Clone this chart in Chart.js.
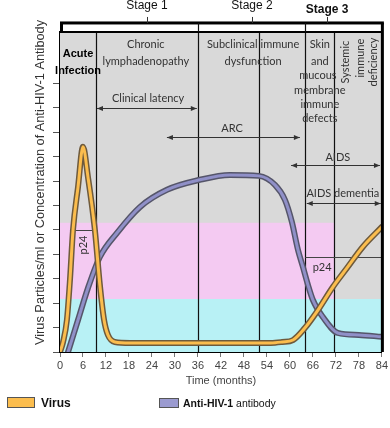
<!DOCTYPE html>
<html>
<head>
<meta charset="utf-8">
<script src="https://cdn.jsdelivr.net/npm/chart.js@4/dist/chart.umd.min.js"></script>
<style>
  html, body { margin: 0; padding: 0; background: #fff; }
  #wrap { position: relative; width: 390px; height: 428px; }
  #legend { position: absolute; left: 0; top: 0; width: 390px; height: 428px; pointer-events: none;
            font-family: "Liberation Sans", Arial, sans-serif; font-size: 11px; color: #111; }
  .sw { position: absolute; box-sizing: border-box; border: 1px solid #555; }
  .lt { position: absolute; line-height: 12px; }
</style>
</head>
<body>
<div id="wrap">
  <canvas id="chart" width="390" height="428"></canvas>
  <div id="legend">
    <div class="sw" style="left:7px;top:397px;width:28px;height:11px;background:#fbbd4e"></div>
    <div class="lt" style="left:41px;top:397px;font-weight:bold;font-size:12px">Virus</div>
    <div class="sw" style="left:159px;top:398px;width:20px;height:10px;background:#9b9bd0"></div>
    <div class="lt" style="left:183px;top:397px;font-size:10.5px"><b>Anti-HIV-1</b> antibody</div>
  </div>
</div>
<script>
// months since infection
const monthTicks = [0, 6, 12, 18, 24, 30, 36, 42, 48, 54, 60, 66, 72, 78, 84];
const levelTicks = [0, 1, 2, 3, 4, 5, 6, 7, 8, 9, 10, 11];

const virusMonths = [0, 0.8, 1.8, 2.6, 3.4, 4.7, 6.0, 7.3, 9.1, 10.4, 11.5, 12.5, 14.3, 18.3, 30, 45, 55, 58, 60.8, 63.9, 67, 71.2, 74.9, 79, 84];
const virusLevel = [0, 0.41, 1.31, 2.95, 5.0, 6.75, 8.4, 7.16, 5.0, 2.75, 1.31, 0.7, 0.41, 0.37, 0.37, 0.37, 0.37, 0.41, 0.49, 0.98, 1.64, 2.66, 3.44, 4.3, 5.12];

const antibodyMonths = [2.1, 4.7, 7.3, 10.4, 14.9, 20.9, 27.9, 36.5, 44.3, 51.9, 56.1, 58.7, 60.5, 62.1, 63.4, 64.7, 66, 68.6, 72.5, 78, 84];
const antibodyLevel = [0, 1.31, 2.62, 3.89, 4.88, 5.94, 6.64, 7.05, 7.25, 7.21, 6.84, 6.23, 5.33, 4.18, 3.48, 2.75, 2.13, 1.43, 0.78, 0.7, 0.62];

// stage boundaries (months)
const boundaries = [9.5, 36, 52, 64, 71.5];

const pts = (xs, ys) => xs.map((m, i) => ({ x: m, y: ys[i] }));

const annFont = 'Lato, "Liberation Sans", sans-serif';
const dark = '#333';

function arrow(ctx, x1, x2, y, both) {
    ctx.beginPath();
    ctx.moveTo(x1, y);
    ctx.lineTo(x2, y);
    ctx.stroke();
    const head = (x, dir) => {
        ctx.beginPath();
        ctx.moveTo(x, y);
        ctx.lineTo(x - dir * 6, y - 2.5);
        ctx.lineTo(x - dir * 6, y + 2.5);
        ctx.closePath();
        ctx.fill();
    };
    head(x2, 1);
    if (both) head(x1, -1);
}

const decor = {
    id: 'decor',
    beforeDatasetsDraw(chart) {
        const { ctx, chartArea: a, scales: { x, y } } = chart;
        ctx.save();
        ctx.fillStyle = '#d9d9d9';
        ctx.fillRect(a.left, a.top, a.right - a.left, a.bottom - a.top);
        // pink band
        ctx.fillStyle = '#f4caf2';
        ctx.fillRect(a.left, y.getPixelForValue(5.29), x.getPixelForValue(71.5) - a.left, y.getPixelForValue(2.17) - y.getPixelForValue(5.29));
        // cyan band
        ctx.fillStyle = '#b8f1f5';
        ctx.fillRect(a.left, y.getPixelForValue(2.17), a.right - a.left, a.bottom - y.getPixelForValue(2.17));

        // stage lines
        ctx.strokeStyle = '#111';
        ctx.lineWidth = 1.2;
        boundaries.forEach(m => {
            const px = Math.round(x.getPixelForValue(m)) + 0.5;
            ctx.beginPath();
            ctx.moveTo(px, a.top);
            ctx.lineTo(px, a.bottom);
            ctx.stroke();
        });

        // p24 markers
        ctx.lineWidth = 1;
        ctx.strokeStyle = '#444';
        let py = Math.round(y.getPixelForValue(4.99)) + 0.5;
        ctx.beginPath();
        ctx.moveTo(x.getPixelForValue(2.6), py);
        ctx.lineTo(x.getPixelForValue(9.9), py);
        ctx.stroke();
        py = Math.round(y.getPixelForValue(3.89)) + 0.5;
        ctx.beginPath();
        ctx.moveTo(x.getPixelForValue(64), py);
        ctx.lineTo(a.right, py);
        ctx.stroke();

        // texts
        ctx.fillStyle = dark;
        ctx.strokeStyle = dark;
        ctx.textAlign = 'center';
        ctx.textBaseline = 'middle';
        const txt = (s, m, v, font) => {
            ctx.font = font || ('11px ' + annFont);
            ctx.fillText(s, x.getPixelForValue(m), y.getPixelForValue(v));
        };
        const vtxt = (s, m, v) => {
            ctx.save();
            ctx.translate(x.getPixelForValue(m), y.getPixelForValue(v));
            ctx.rotate(-Math.PI / 2);
            ctx.font = '11px ' + annFont;
            ctx.fillText(s, 0, 0);
            ctx.restore();
        };
        ctx.fillStyle = '#000';
        txt('Acute', 4.7, 12.2, 'bold 11px "Liberation Sans", Arial, sans-serif');
        txt('Infection', 4.7, 11.5, 'bold 11px "Liberation Sans", Arial, sans-serif');
        ctx.fillStyle = dark;
        txt('Chronic', 22.4, 12.57);
        txt('lymphadenopathy', 22.4, 11.91);
        txt('Clinical latency', 23, 10.36);
        txt('ARC', 44.9, 9.17);
        txt('Subclinical immune', 50.4, 12.57);
        txt('dysfunction', 50.4, 11.91);
        txt('Skin', 67.8, 12.57);
        txt('and', 67.8, 11.91);
        txt('mucous', 67.3, 11.34);
        txt('membrane', 67.8, 10.72);
        txt('immune', 67.8, 10.15);
        txt('defects', 67.8, 9.58);
        vtxt('Systemic', 74.4, 11.87);
        vtxt('immune', 78.3, 12.03);
        vtxt('deficiency', 81.7, 11.87);
        txt('AIDS', 72.5, 7.98);
        txt('AIDS dementia', 73.8, 6.51);
        vtxt('p24', 6.0, 4.38);
        txt('p24', 68.4, 3.48);

        ctx.lineWidth = 1;
        arrow(ctx, x.getPixelForValue(9.65), x.getPixelForValue(35.7), Math.round(y.getPixelForValue(9.99)) + 0.5, true);
        arrow(ctx, x.getPixelForValue(27.9), x.getPixelForValue(62.6), Math.round(y.getPixelForValue(8.8)) + 0.5, true);
        arrow(ctx, x.getPixelForValue(60.3), x.getPixelForValue(83.5), Math.round(y.getPixelForValue(7.65)) + 0.5, true);
        arrow(ctx, x.getPixelForValue(64.4), x.getPixelForValue(83.7), Math.round(y.getPixelForValue(6.1)) + 0.5, true);
        ctx.restore();
    },
    afterDraw(chart) {
        const { ctx, chartArea: a, scales: { x, y } } = chart;
        ctx.save();
        // stage header box
        const boxTop = y.getPixelForValue(13.47);
        ctx.fillStyle = '#fff';
        ctx.fillRect(a.left, boxTop, a.right - a.left, a.top - boxTop);
        ctx.fillStyle = '#000';
        ctx.fillRect(a.left, boxTop - 1.5, a.right - a.left + 2, 3);
        ctx.fillRect(a.left, a.top - 1, a.right - a.left, 2);
        ctx.fillRect(a.left, boxTop, 3, a.top - boxTop);
        // thick right border
        ctx.fillRect(a.right - 1, boxTop, 3, a.bottom - boxTop);
        ctx.lineWidth = 1.2;
        ctx.strokeStyle = '#111';
        [36, 64].forEach(m => {
            const px = Math.round(x.getPixelForValue(m)) + 0.5;
            ctx.beginPath();
            ctx.moveTo(px, boxTop);
            ctx.lineTo(px, a.top);
            ctx.stroke();
        });
        // stage labels
        ctx.textAlign = 'center';
        ctx.textBaseline = 'middle';
        ctx.fillStyle = '#111';
        ctx.strokeStyle = '#333';
        ctx.lineWidth = 1;
        [['Stage 1', 22.7, 14.16, '12px'], ['Stage 2', 50.1, 14.16, '12px'], ['Stage 3', 69.7, 14.0, 'bold 12px']].forEach(([s, m, v, f]) => {
            const px = x.getPixelForValue(m);
            ctx.font = f + ' "Liberation Sans", Arial, sans-serif';
            ctx.fillText(s, px, y.getPixelForValue(v));
            ctx.beginPath();
            ctx.moveTo(Math.round(px) + 0.5, boxTop - 6);
            ctx.lineTo(Math.round(px) + 0.5, boxTop);
            ctx.stroke();
        });
        // y axis title
        const title = 'Virus Particles/ml or Concentration of Anti-HIV-1 Antibody';
        ctx.font = '13px "Liberation Sans", Arial, sans-serif';
        const size = 13 * 325 / ctx.measureText(title).width;
        ctx.font = size.toFixed(2) + 'px "Liberation Sans", Arial, sans-serif';
        ctx.fillStyle = '#333';
        ctx.translate(40, y.getPixelForValue(6.94));
        ctx.rotate(-Math.PI / 2);
        ctx.fillText(title, 0, 0);
        ctx.restore();
    }
};

const line = (data, color, width, order) => ({
    data, borderColor: color, borderWidth: width, pointRadius: 0,
    cubicInterpolationMode: 'monotone', fill: false, order,
    borderJoinStyle: 'round', borderCapStyle: 'round'
});

new Chart(document.getElementById('chart'), {
    type: 'line',
    data: {
        datasets: [
            line(pts(virusMonths, virusLevel), '#fbbd4e', 3, 1),
            line(pts(virusMonths, virusLevel), '#6e5a3c', 6, 2),
            line(pts(antibodyMonths, antibodyLevel), '#9090c8', 3, 3),
            line(pts(antibodyMonths, antibodyLevel), '#55556a', 6, 4)
        ]
    },
    options: {
        responsive: false,
        animation: false,
        events: [],
        layout: { padding: { top: 32, right: 8, left: 0, bottom: 40 } },
        plugins: { legend: { display: false }, tooltip: { enabled: false } },
        scales: {
            x: {
                type: 'linear', min: 0, max: 84,
                afterBuildTicks: s => { s.ticks = monthTicks.map(v => ({ value: v })); },
                afterFit: s => { s.height = 36; },
                ticks: { color: '#444', font: { family: '"Liberation Sans", Arial, sans-serif', size: 11 }, padding: 2, maxRotation: 0 },
                grid: { drawOnChartArea: false, tickLength: 5, tickColor: '#777' },
                border: { color: '#000', width: 2 },
                title: { display: true, text: 'Time (months)', color: '#444', padding: 0,
                         font: { family: '"Liberation Sans", Arial, sans-serif', size: 11 } }
            },
            y: {
                min: 0, max: 13.1,
                afterBuildTicks: s => { s.ticks = levelTicks.map(v => ({ value: v })); },
                afterFit: s => { s.width = 60; },
                ticks: { display: false },
                grid: { drawOnChartArea: false, tickLength: 7, tickColor: '#555' },
                border: { color: '#000', width: 1.5 }
            }
        }
    },
    plugins: [decor]
});
</script>
</body>
</html>
